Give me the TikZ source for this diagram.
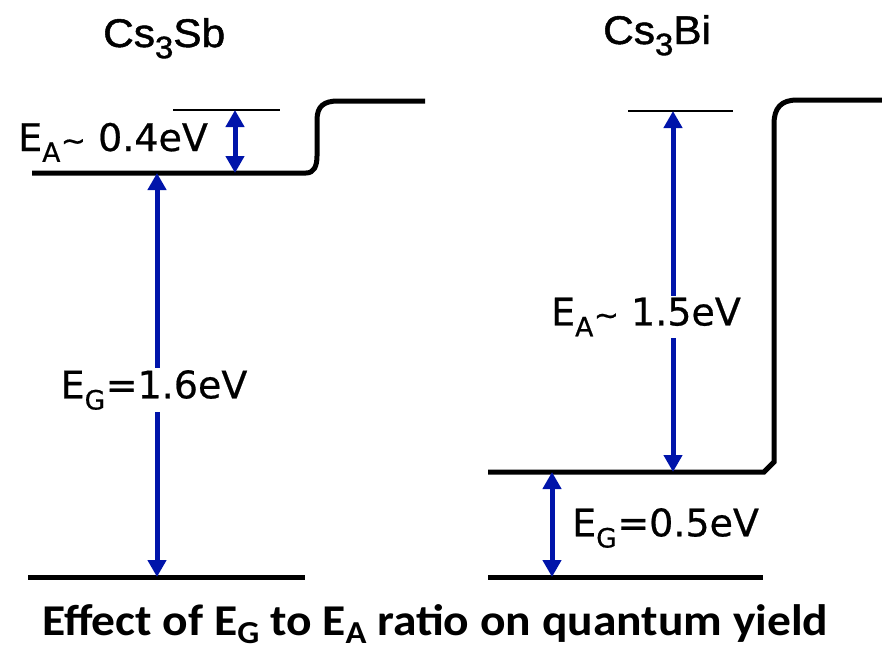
\documentclass[tikz,border=0pt]{standalone}
\usepackage{fontspec}
\usepackage{graphicx}
\setmainfont{DejaVu Sans}[FakeBold=0.6]
\newfontfamily\titlefont{Carlito}
\newfontfamily\headfont{Liberation Sans}[FakeBold=1.2]
\usetikzlibrary{arrows.meta}
\definecolor{arrblue}{RGB}{0,20,170}
\newcommand{\smalltilde}{{\fontsize{30}{30}\selectfont\char`~}}
\newcommand{\headsub}[1]{\raisebox{-0.28em}{\fontsize{31}{31}\selectfont #1}}
\newcommand{\titlesub}[1]{\raisebox{-0.2em}{\fontsize{32}{32}\selectfont #1}}
\tikzset{
  level/.style={line width=5pt, black},
  refline/.style={line width=2pt, black},
  energy/.style={line width=5pt, arrblue, {Triangle[width=18pt,length=17pt]}-{Triangle[width=18pt,length=17pt]}},
  lbl/.style={font=\fontsize{38}{40}\selectfont, inner sep=2pt},
  head/.style={font=\headfont\fontsize{40}{42}\selectfont, inner sep=0pt, anchor=base west},
}
\begin{document}
\begin{tikzpicture}[x=1pt,y=-1pt]
\useasboundingbox (0,0) rectangle (882,654);
% headings
\node[head] (hsb) at (103,47) {\scalebox{1.06}[1]{Cs\headsub{3}Sb}};
\node[head] (hbi) at (603,44) {\scalebox{1.06}[1]{Cs\headsub{3}Bi}};
% ---------- left: Cs3Sb ----------
\coordinate (LrefL) at (173,110);
\coordinate (LrefR) at (280,110);
\coordinate (LcbL) at (32,173);
\coordinate (LcbR) at (306,173);
\coordinate (LvacR) at (425,101);
\coordinate (LvbL) at (28,577);
\coordinate (LvbR) at (305,577);
\draw[refline] (LrefL) -- (LrefR);
\draw[level] (LcbL) -- (LcbR) .. controls (314,173) and (317,166) .. (317,156) -- (317,120) .. controls (317,106) and (324,101) .. (338,101) -- (LvacR);
\draw[level] (LvbL) -- (LvbR);
\coordinate (LeaT) at (235,110);
\coordinate (LeaB) at (235,173);
\draw[energy] (LeaT) -- (LeaB);
\coordinate (LegT) at (157,173);
\coordinate (LegB) at (157,577);
\draw[energy] (LegT) -- (LegB);
\node[lbl, anchor=base west] (lea) at (16,151) {E\textsubscript{A}\smalltilde{} 0.4eV};
\node[lbl, fill=white] (leg) at (154,390) {E\textsubscript{G}=1.6eV};
% ---------- right: Cs3Bi ----------
\coordinate (RrefL) at (628,111);
\coordinate (RrefR) at (733,111);
\coordinate (RcbL) at (488,472);
\coordinate (RcbR) at (764,472);
\coordinate (RvacR) at (882,100);
\coordinate (RvbL) at (488,577);
\coordinate (RvbR) at (763,577);
\draw[refline] (RrefL) -- (RrefR);
\draw[level] (RcbL) -- (RcbR) -- (774,462) -- (774,124) .. controls (774,108) and (781,100) .. (797,100) -- (RvacR);
\draw[level] (RvbL) -- (RvbR);
\coordinate (ReaT) at (673,111);
\coordinate (ReaB) at (673,472);
\draw[energy] (ReaT) -- (ReaB);
\coordinate (RegT) at (552,472);
\coordinate (RegB) at (552,577);
\draw[energy] (RegT) -- (RegB);
\node[lbl, fill=white] (rea) at (646,317) {E\textsubscript{A}\smalltilde{} 1.5eV};
\node[lbl, anchor=west] (reg) at (570,528) {E\textsubscript{G}=0.5eV};
% ---------- title ----------
\node[font=\titlefont\bfseries\fontsize{44}{46}\selectfont, inner sep=0pt, anchor=base west] (title) at (42,635) {\scalebox{1.08}[1]{Effect of E\titlesub{G} to E\titlesub{A} ratio on quantum yield}};
\end{tikzpicture}
\end{document}
